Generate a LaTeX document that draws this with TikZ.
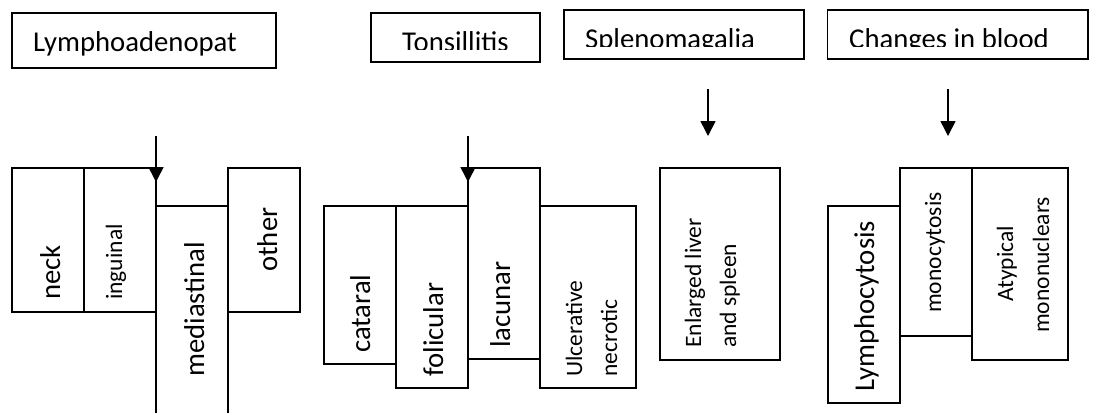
\documentclass[tikz,border=0pt]{standalone}
\usepackage{fontspec}
\setmainfont{Carlito}
\usetikzlibrary{arrows.meta}
\newcommand\bigtext{\fontsize{28.7}{34}\selectfont}
\newcommand\smalltext{\fontsize{23.5}{28}\selectfont}
\begin{document}
\begin{tikzpicture}[x=1pt,y=-1pt,
  box/.style={draw,line width=1.6pt,inner sep=0pt,outer sep=0pt},
  vbig/.style={rotate=90,anchor=base west,inner sep=0pt,font=\bigtext},
  vsmall/.style={rotate=90,anchor=base west,inner sep=0pt,font=\smalltext},
  title/.style={anchor=base west,inner sep=0pt,font=\bigtext},
  down/.style={line width=1.6pt,-{Triangle[length=15pt,width=15pt]}}]
\useasboundingbox (0,0) rectangle (1102,412);
\clip (0,0) rectangle (1102,412);

% headings
\node[box,minimum width=264pt,minimum height=55pt] (lymph) at (144,40.5) {};
\node[box,minimum width=169pt,minimum height=49pt] (tonsil) at (455.5,37.5) {};
\node[box,minimum width=240pt,minimum height=49.3pt] (splen) at (684,34.65) {};
\node[box,minimum width=260.5pt,minimum height=49.3pt] (blood) at (957.75,34.65) {};

\node[title] (lymphT) at (33,51.7) {Lymphoadenopat};
\begin{scope}
  \clip (372,14) rectangle (539,49.3);
  \node[title] (tonsilT) at (402,51.8) {Tonsillitis};
\end{scope}
\begin{scope}
  \clip (565,11) rectangle (803,47);
  \node[title] (splenT) at (585,48.5) {Splenomagalia};
\end{scope}
\begin{scope}
  \clip (829,11) rectangle (1087,47);
  \node[title] (bloodT) at (849,48.5) {Changes in blood};
\end{scope}

% arrows
\coordinate (a1s) at (156,136); \coordinate (a1e) at (156,182);
\coordinate (a2s) at (468,136); \coordinate (a2e) at (468,182);
\coordinate (a3s) at (708,89);  \coordinate (a3e) at (708,136);
\coordinate (a4s) at (948,89);  \coordinate (a4e) at (948,136);
\draw[down] (a1s) -- (a1e);
\draw[down] (a2s) -- (a2e);
\draw[down] (a3s) -- (a3e);
\draw[down] (a4s) -- (a4e);

% lymph nodes group
\node[box,minimum width=72pt,minimum height=144pt] (neck) at (48,240) {};
\node[box,minimum width=72pt,minimum height=144pt] (inguinal) at (120,240) {};
\node[box,minimum width=72pt,minimum height=244pt] (mediastinal) at (192,328) {};
\node[box,minimum width=72pt,minimum height=144pt] (other) at (264,240) {};
\node[vbig] (neckT) at (60,300) {neck};
\node[vsmall] (inguinalT) at (122,300) {inguinal};
\node[vbig] (mediastinalT) at (204,377) {mediastinal};
\node[vbig] (otherT) at (277,272) {other};

% tonsillitis group
\node[box,minimum width=72pt,minimum height=158pt] (catarral) at (360,285) {};
\node[box,minimum width=72pt,minimum height=182pt] (folicular) at (432,297) {};
\node[box,minimum width=72pt,minimum height=191pt] (lacunar) at (504,263.5) {};
\node[box,minimum width=96pt,minimum height=182pt] (ulcer) at (588,297) {};
\node[vbig] (catarralT) at (370,353) {cataral};
\node[vbig] (folicularT) at (443,377) {folicular};
\node[vbig] (lacunarT) at (510,348) {lacunar};
\node[vsmall] (ulcerT1) at (582,377) {Ulcerative};
\node[vsmall] (ulcerT2) at (617,377) {necrotic};

% spleen group
\node[box,minimum width=120pt,minimum height=192pt] (enlarged) at (720,264) {};
\node[vsmall] (enlargedT1) at (701,348) {Enlarged liver};
\node[vsmall] (enlargedT2) at (736,348) {and spleen};

% blood group
\node[box,minimum width=72pt,minimum height=197pt] (lympho) at (864,304.5) {};
\node[box,minimum width=72pt,minimum height=168pt] (mono) at (936,252) {};
\node[box,minimum width=96pt,minimum height=192pt] (atyp) at (1020,264) {};
\node[vbig] (lymphoT) at (874,392) {Lymphocytosis};
\node[vsmall] (monoT) at (941,313) {monocytosis};
\node[vsmall] (atypT1) at (1013,302) {Atypical};
\node[vsmall] (atypT2) at (1049,333) {mononuclears};
\end{tikzpicture}
\end{document}
